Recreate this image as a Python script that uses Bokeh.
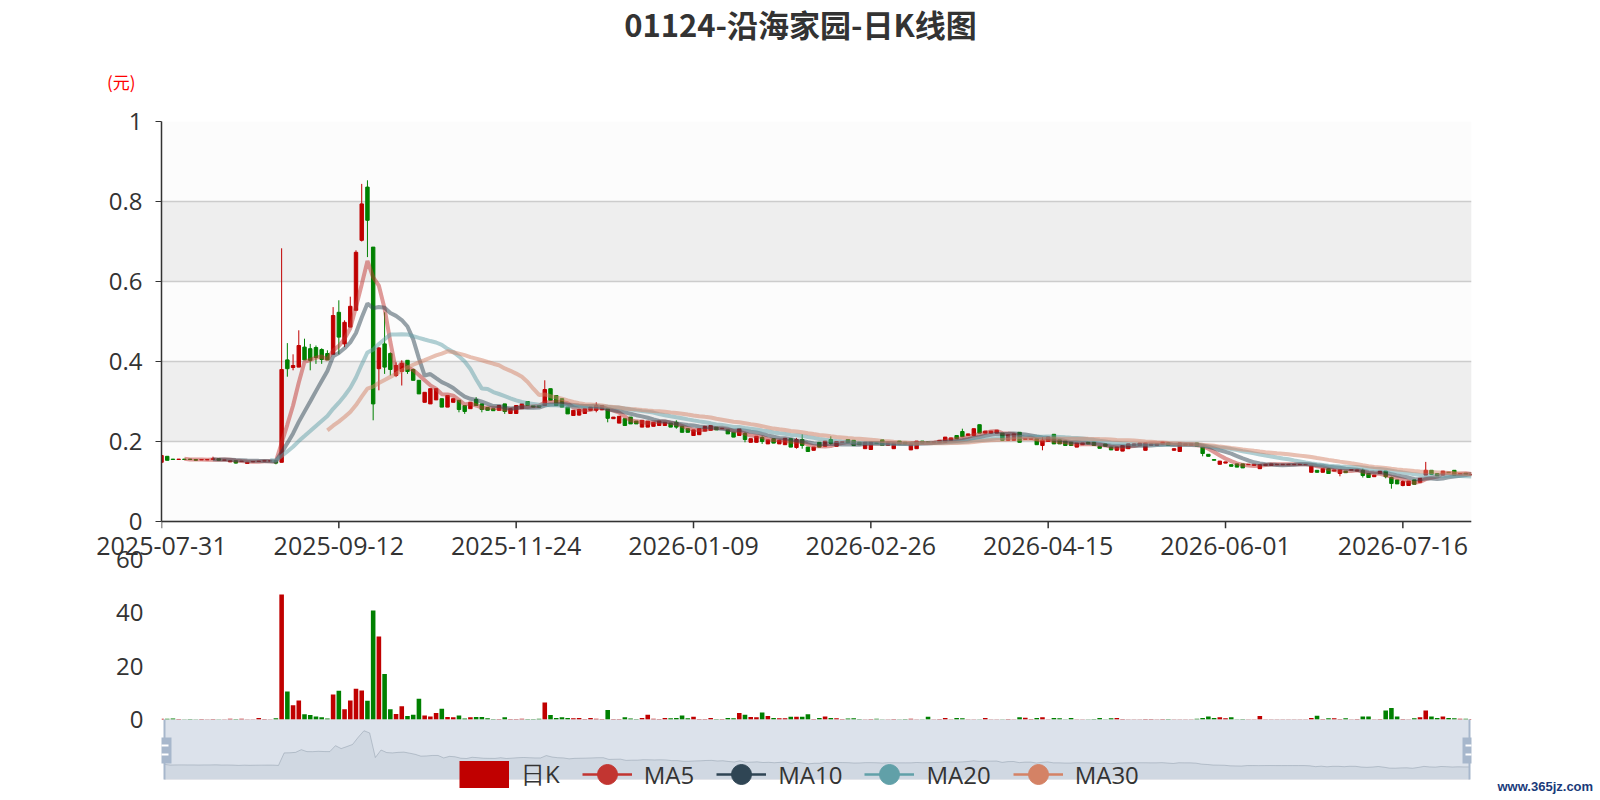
import numpy as np
import pandas as pd
from bokeh.plotting import figure
from bokeh.layouts import column
from bokeh.models import (ColumnDataSource, Range1d, FixedTicker, NumeralTickFormatter,
                          Label, BoxAnnotation, Legend, LegendItem, LinearAxis, Span)
from bokeh.embed import file_html
from bokeh.resources import INLINE

# ---------------- data ----------------
title_text = "01124-沿海家园-日K线图"
unit_text = "(元)"
watermark_text = "www.365jz.com"
tick_index = [0, 31, 62, 93, 124, 155, 186, 217]
tick_labels = ["2025-07-31", "2025-09-12", "2025-11-24", "2026-01-09",
               "2026-02-26", "2026-04-15", "2026-06-01", "2026-07-16"]
price_ticks = [0, 0.2, 0.4, 0.6, 0.8, 1]
volume_ticks = [0, 20, 40, 60]
legend_names = ["日K", "MA5", "MA10", "MA20", "MA30"]
ma_periods = [5, 10, 20, 30]

opens = [
    0.148, 0.163, 0.156, 0.155, 0.156, 0.156, 0.155, 0.154, 0.154, 0.155,
    0.157, 0.153, 0.149, 0.152, 0.150, 0.145, 0.149, 0.150, 0.151, 0.151,
    0.152, 0.148, 0.404, 0.385, 0.386, 0.436, 0.432, 0.435, 0.430, 0.420,
    0.418, 0.523, 0.444, 0.486, 0.528, 0.703, 0.836, 0.686, 0.382, 0.444,
    0.420, 0.365, 0.375, 0.403, 0.380, 0.353, 0.298, 0.294, 0.304, 0.307,
    0.286, 0.298, 0.303, 0.290, 0.282, 0.305, 0.294, 0.285, 0.282, 0.278,
    0.294, 0.270, 0.270, 0.282, 0.300, 0.290, 0.290, 0.290, 0.332, 0.315,
    0.307, 0.286, 0.265, 0.266, 0.270, 0.278, 0.278, 0.279, 0.282, 0.257,
    0.246, 0.257, 0.261, 0.251, 0.236, 0.236, 0.238, 0.240, 0.240, 0.246,
    0.248, 0.238, 0.232, 0.215, 0.217, 0.226, 0.228, 0.236, 0.232, 0.229,
    0.223, 0.215, 0.220, 0.198, 0.198, 0.210, 0.194, 0.207, 0.194, 0.192,
    0.207, 0.185, 0.205, 0.186, 0.178, 0.198, 0.188, 0.205, 0.188, 0.198,
    0.205, 0.203, 0.198, 0.182, 0.180, 0.196, 0.204, 0.190, 0.182, 0.201,
    0.198, 0.179, 0.182, 0.201, 0.200, 0.197, 0.197, 0.198, 0.203, 0.215,
    0.225, 0.215, 0.215, 0.242, 0.221, 0.221, 0.221, 0.221, 0.203, 0.203,
    0.223, 0.2055, 0.2055, 0.207, 0.190, 0.200, 0.218, 0.204, 0.201, 0.198,
    0.186, 0.192, 0.198, 0.198, 0.188, 0.194, 0.186, 0.178, 0.176, 0.182,
    0.190, 0.190, 0.178, 0.190, 0.190, 0.194, 0.196, 0.178, 0.175, 0.190,
    0.190, 0.196, 0.186, 0.168, 0.155, 0.143, 0.146, 0.142, 0.144, 0.144,
    0.142, 0.140, 0.132, 0.140, 0.140, 0.142, 0.142, 0.142, 0.142, 0.142,
    0.142, 0.123, 0.128, 0.123, 0.132, 0.126, 0.120, 0.126, 0.128, 0.126,
    0.128, 0.120, 0.112, 0.120, 0.126, 0.110, 0.104, 0.090, 0.090, 0.104,
    0.098, 0.116, 0.128, 0.120, 0.116, 0.123, 0.128, 0.118, 0.121, 0.116,
]
closes = [
    0.165, 0.153, 0.155, 0.156, 0.155, 0.155, 0.153, 0.155, 0.155, 0.157,
    0.153, 0.154, 0.152, 0.146, 0.151, 0.148, 0.150, 0.151, 0.152, 0.152,
    0.146, 0.380, 0.382, 0.390, 0.440, 0.404, 0.403, 0.410, 0.405, 0.404,
    0.515, 0.461, 0.498, 0.538, 0.673, 0.794, 0.753, 0.294, 0.434, 0.386,
    0.380, 0.390, 0.395, 0.375, 0.353, 0.319, 0.323, 0.332, 0.332, 0.286,
    0.315, 0.307, 0.280, 0.275, 0.298, 0.290, 0.280, 0.278, 0.277, 0.290,
    0.275, 0.282, 0.290, 0.294, 0.290, 0.286, 0.286, 0.330, 0.303, 0.290,
    0.286, 0.269, 0.278, 0.280, 0.282, 0.286, 0.290, 0.290, 0.258, 0.261,
    0.263, 0.240, 0.244, 0.244, 0.253, 0.251, 0.248, 0.251, 0.248, 0.236,
    0.236, 0.223, 0.223, 0.229, 0.232, 0.238, 0.240, 0.229, 0.233, 0.219,
    0.211, 0.232, 0.205, 0.207, 0.213, 0.200, 0.204, 0.196, 0.203, 0.208,
    0.186, 0.205, 0.190, 0.175, 0.186, 0.186, 0.201, 0.195, 0.200, 0.199,
    0.197, 0.190, 0.192, 0.198, 0.198, 0.195, 0.190, 0.198, 0.196, 0.194,
    0.194, 0.194, 0.201, 0.196, 0.197, 0.200, 0.203, 0.211, 0.209, 0.207,
    0.212, 0.219, 0.232, 0.221, 0.226, 0.226, 0.228, 0.203, 0.217, 0.219,
    0.198, 0.2075, 0.2075, 0.192, 0.203, 0.211, 0.194, 0.194, 0.190, 0.190,
    0.196, 0.196, 0.194, 0.190, 0.183, 0.188, 0.179, 0.186, 0.190, 0.194,
    0.194, 0.196, 0.196, 0.194, 0.194, 0.198, 0.190, 0.182, 0.196, 0.194,
    0.194, 0.188, 0.170, 0.163, 0.153, 0.151, 0.149, 0.138, 0.136, 0.134,
    0.143, 0.143, 0.142, 0.143, 0.144, 0.143, 0.143, 0.143, 0.143, 0.143,
    0.143, 0.138, 0.123, 0.132, 0.120, 0.129, 0.129, 0.122, 0.130, 0.129,
    0.115, 0.110, 0.116, 0.126, 0.112, 0.095, 0.094, 0.100, 0.101, 0.093,
    0.108, 0.128, 0.118, 0.114, 0.126, 0.122, 0.116, 0.120, 0.118, 0.118,
]
highs = [
    0.165, 0.163, 0.156, 0.156, 0.156, 0.156, 0.155, 0.155, 0.155, 0.162,
    0.157, 0.154, 0.152, 0.152, 0.151, 0.148, 0.150, 0.151, 0.152, 0.152,
    0.152, 0.683, 0.446, 0.418, 0.478, 0.457, 0.444, 0.440, 0.433, 0.428,
    0.536, 0.553, 0.503, 0.562, 0.678, 0.844, 0.853, 0.686, 0.436, 0.523,
    0.423, 0.398, 0.403, 0.403, 0.382, 0.353, 0.323, 0.332, 0.332, 0.307,
    0.315, 0.307, 0.303, 0.290, 0.298, 0.311, 0.294, 0.285, 0.282, 0.290,
    0.294, 0.282, 0.290, 0.294, 0.300, 0.290, 0.290, 0.353, 0.332, 0.315,
    0.307, 0.286, 0.278, 0.282, 0.282, 0.286, 0.298, 0.290, 0.282, 0.261,
    0.263, 0.257, 0.261, 0.251, 0.253, 0.251, 0.248, 0.251, 0.248, 0.246,
    0.253, 0.238, 0.232, 0.229, 0.232, 0.238, 0.240, 0.236, 0.233, 0.229,
    0.223, 0.232, 0.223, 0.207, 0.213, 0.213, 0.204, 0.207, 0.203, 0.208,
    0.207, 0.209, 0.218, 0.186, 0.186, 0.198, 0.201, 0.213, 0.200, 0.199,
    0.205, 0.203, 0.198, 0.198, 0.198, 0.196, 0.204, 0.198, 0.196, 0.201,
    0.198, 0.194, 0.201, 0.201, 0.200, 0.200, 0.203, 0.211, 0.209, 0.215,
    0.232, 0.219, 0.232, 0.242, 0.226, 0.226, 0.228, 0.221, 0.217, 0.219,
    0.223, 0.2075, 0.2075, 0.207, 0.211, 0.211, 0.218, 0.204, 0.201, 0.198,
    0.196, 0.196, 0.198, 0.198, 0.188, 0.194, 0.186, 0.186, 0.190, 0.194,
    0.194, 0.196, 0.196, 0.194, 0.194, 0.198, 0.196, 0.182, 0.196, 0.194,
    0.194, 0.196, 0.186, 0.168, 0.155, 0.151, 0.149, 0.142, 0.144, 0.144,
    0.143, 0.143, 0.142, 0.143, 0.144, 0.143, 0.143, 0.143, 0.143, 0.143,
    0.143, 0.138, 0.128, 0.132, 0.132, 0.129, 0.129, 0.126, 0.130, 0.129,
    0.132, 0.120, 0.116, 0.126, 0.126, 0.112, 0.104, 0.103, 0.101, 0.104,
    0.108, 0.149, 0.128, 0.120, 0.126, 0.123, 0.128, 0.120, 0.121, 0.118,
]
lows = [
    0.148, 0.153, 0.155, 0.155, 0.155, 0.155, 0.153, 0.154, 0.154, 0.155,
    0.153, 0.153, 0.149, 0.145, 0.150, 0.145, 0.149, 0.150, 0.151, 0.151,
    0.143, 0.148, 0.362, 0.378, 0.386, 0.404, 0.378, 0.394, 0.394, 0.404,
    0.418, 0.418, 0.436, 0.486, 0.528, 0.700, 0.661, 0.253, 0.328, 0.369,
    0.365, 0.361, 0.340, 0.369, 0.353, 0.319, 0.298, 0.294, 0.304, 0.286,
    0.286, 0.298, 0.273, 0.269, 0.282, 0.290, 0.273, 0.278, 0.277, 0.278,
    0.269, 0.270, 0.270, 0.282, 0.290, 0.286, 0.286, 0.290, 0.303, 0.290,
    0.286, 0.269, 0.265, 0.265, 0.270, 0.278, 0.273, 0.279, 0.248, 0.257,
    0.246, 0.240, 0.244, 0.244, 0.236, 0.236, 0.238, 0.240, 0.240, 0.236,
    0.232, 0.223, 0.223, 0.215, 0.217, 0.226, 0.228, 0.229, 0.232, 0.219,
    0.211, 0.215, 0.198, 0.198, 0.198, 0.194, 0.194, 0.196, 0.194, 0.192,
    0.186, 0.182, 0.182, 0.175, 0.178, 0.186, 0.188, 0.192, 0.188, 0.198,
    0.197, 0.190, 0.192, 0.182, 0.180, 0.195, 0.190, 0.190, 0.182, 0.194,
    0.194, 0.179, 0.182, 0.196, 0.197, 0.197, 0.197, 0.198, 0.203, 0.207,
    0.211, 0.215, 0.215, 0.221, 0.221, 0.221, 0.221, 0.203, 0.203, 0.203,
    0.198, 0.2055, 0.2055, 0.192, 0.178, 0.200, 0.194, 0.194, 0.190, 0.190,
    0.186, 0.192, 0.194, 0.190, 0.183, 0.188, 0.179, 0.178, 0.176, 0.182,
    0.190, 0.190, 0.178, 0.190, 0.190, 0.194, 0.190, 0.178, 0.175, 0.190,
    0.190, 0.188, 0.163, 0.163, 0.153, 0.143, 0.146, 0.138, 0.136, 0.134,
    0.142, 0.140, 0.132, 0.140, 0.140, 0.142, 0.142, 0.142, 0.142, 0.142,
    0.142, 0.123, 0.123, 0.123, 0.120, 0.126, 0.113, 0.122, 0.128, 0.126,
    0.110, 0.110, 0.112, 0.120, 0.108, 0.082, 0.094, 0.088, 0.090, 0.093,
    0.098, 0.116, 0.118, 0.114, 0.116, 0.122, 0.116, 0.118, 0.118, 0.116,
]
volumes = [
    0.3, 0.3, 0.4, 0.15, 0.1, 0.15, 0.1, 0.15, 0.1, 0.15,
    0.1, 0.1, 0.3, 0.2, 0.3, 0.1, 0.1, 0.6, 0.2, 0.1,
    0.5, 46.9, 10.5, 5.3, 7.1, 2.0, 1.7, 1.1, 0.8, 0.4,
    9.4, 10.8, 3.8, 7.1, 11.5, 10.9, 7.0, 40.9, 31.1, 17.1,
    3.8, 2.1, 5.0, 1.3, 1.8, 7.8, 1.5, 1.1, 2.4, 4.0,
    0.9, 0.8, 1.5, 0.4, 0.8, 0.9, 0.9, 0.5, 0.2, 0.2,
    0.8, 0.2, 0.2, 0.3, 0.2, 0.2, 0.3, 6.4, 1.7, 0.6,
    0.8, 0.6, 0.5, 0.6, 0.2, 0.6, 0.3, 0.2, 3.6, 0.2,
    0.2, 0.8, 0.4, 0.2, 0.6, 1.8, 0.3, 0.2, 0.6, 0.5,
    0.6, 1.5, 0.5, 1.0, 0.2, 0.2, 0.6, 0.2, 0.2, 0.6,
    0.5, 2.4, 1.8, 0.9, 0.8, 2.6, 1.3, 0.6, 0.5, 0.5,
    1.0, 1.0, 1.0, 2.0, 0.2, 0.6, 1.1, 0.6, 0.5, 0.2,
    0.4, 0.5, 0.2, 0.1, 0.2, 0.3, 0.1, 0.1, 0.2, 0.1,
    0.2, 0.3, 0.1, 0.1, 1.0, 0.1, 0.2, 0.6, 0.1, 0.6,
    0.5, 0.1, 0.1, 0.1, 0.6, 0.1, 0.1, 0.1, 0.2, 0.1,
    0.8, 0.7, 0.2, 0.6, 0.8, 0.1, 0.6, 0.5, 0.1, 0.6,
    0.1, 0.1, 0.1, 0.2, 0.6, 0.1, 0.5, 0.6, 0.2, 0.1,
    0.1, 0.1, 0.2, 0.2, 0.1, 0.2, 0.2, 0.1, 0.1, 0.1,
    0.1, 0.3, 0.6, 1.1, 0.6, 0.8, 0.5, 0.8, 0.1, 0.2,
    0.1, 0.1, 1.3, 0.1, 0.1, 0.05, 0.05, 0.05, 0.05, 0.05,
    0.1, 0.6, 1.4, 0.2, 0.5, 0.5, 0.2, 0.5, 0.1, 0.2,
    1.1, 1.1, 0.1, 0.2, 3.4, 4.3, 1.1, 0.2, 0.1, 0.5,
    0.8, 3.4, 1.1, 0.6, 1.1, 0.6, 0.5, 0.3, 0.3, 0.2,
]

# ---------------- styles ----------------
UP = "#c00000"
DOWN = "#008000"
MA_COLORS = ["#c23531", "#2f4554", "#61a0a8", "#d48265"]
TXT = "#333333"
NUM_FONT = "Open Sans"
CJK_FONT = "Noto Sans CJK SC"

# page-pixel layout; all plot frames share the same horizontal span
PAGE_W = 1600
F_LEFT, F_RIGHT = 161, 1471
T_H = 105                               # title strip: 0..105
A_TOP, A_ZERO, A_FB, A_END = 121, 521, 528, 536   # main canvas 105..536, frame 121..528
B_START, B_TOP, B_END = 524, 559, 799   # volume canvas 524..799 (overlaps main by a few px)
VOL_ZERO_Y = 719
SL_LEFT, SL_RIGHT, SL_TOP, SL_BOTTOM = 164, 1469, 719, 779
TICK_LEN = 7
LEG_LEFT = 459

N = len(closes)
idx = np.arange(N)
o = np.array(opens); c = np.array(closes); h = np.array(highs); l = np.array(lows)
vol = np.array(volumes)
colors = np.where(c >= o, UP, DOWN)
src = ColumnDataSource(dict(x=idx, o=o, c=c, h=h, l=l,
                            top=np.maximum(o, c), bot=np.minimum(o, c),
                            color=colors, vol=vol))
common = dict(output_backend="svg", toolbar_location=None,
              min_border_left=F_LEFT, min_border_right=PAGE_W - F_RIGHT,
              outline_line_color=None)

# ---------------- title strip ----------------
pT = figure(width=PAGE_W, height=T_H, x_range=Range1d(0, 1), y_range=Range1d(T_H, 0),
            x_axis_location=None, min_border_top=0, min_border_bottom=0,
            background_fill_color="white", border_fill_color="white", **common)
pT.grid.visible = False
ty = pT.yaxis[0]
ty.ticker = FixedTicker(ticks=[81])
ty.major_label_overrides = {81: unit_text}
ty.major_label_text_font = CJK_FONT
ty.major_label_text_font_size = "17px"
ty.major_label_text_color = "#ff0000"
ty.major_label_standoff = 26
ty.major_tick_out = 0
ty.major_tick_in = 0
ty.minor_tick_out = 0
ty.axis_line_color = None
pT.add_layout(Label(x=800 - F_LEFT, y=T_H - 23, x_units="screen", y_units="screen",
                    text=title_text, text_align="center", text_baseline="middle",
                    text_font=CJK_FONT, text_font_style="bold", text_font_size="31px",
                    text_color=TXT))

# ---------------- main K chart ----------------
ppx = (A_ZERO - A_TOP) / 1.0          # pixels per price unit
pA = figure(width=PAGE_W, height=A_END - T_H,
            x_range=Range1d(0, N - 1), y_range=Range1d(-(A_FB - A_ZERO) / ppx, 1),
            x_axis_location=None, min_border_top=A_TOP - T_H, min_border_bottom=A_END - A_FB,
            background_fill_color="white", border_fill_color="white", **common)
pA.xgrid.visible = False
pA.ygrid.ticker = FixedTicker(ticks=price_ticks)
pA.ygrid.grid_line_color = "#cccccc"
pA.ygrid.grid_line_width = 1.5
pA.ygrid.band_fill_alpha = 0

# split areas: light over the whole value span, grey for every second interval
pA.add_layout(BoxAnnotation(bottom=price_ticks[0], top=price_ticks[-1], fill_color="#fcfcfc",
                            fill_alpha=1, line_alpha=0, level="image", editable=False))
for lo_t, hi_t in zip(price_ticks[1::2], price_ticks[2::2]):
    pA.add_layout(BoxAnnotation(bottom=lo_t, top=hi_t, fill_color="#eeeeee",
                                fill_alpha=1, line_alpha=0, level="image",
                                editable=False))

ya = pA.yaxis[0]
ya.ticker = FixedTicker(ticks=price_ticks)
ya.bounds = (price_ticks[0], price_ticks[-1])
ya.formatter = NumeralTickFormatter(format="0.[0]")
ya.major_label_text_font = NUM_FONT
ya.major_label_text_font_size = "24px"
ya.major_label_text_color = TXT
ya.major_tick_out = 6
ya.major_tick_in = 0
ya.minor_tick_out = 0
ya.major_label_standoff = 13
ya.axis_line_color = TXT
ya.axis_line_width = 1.5
ya.major_tick_line_color = TXT

pA.segment(x0="x", y0="l", x1="x", y1="h", line_color="color", line_width=1, source=src)
pA.vbar(x="x", top="top", bottom="bot", width=0.6, fill_color="color",
        line_color="color", line_width=1, source=src)

close_s = pd.Series(c)
for n, col in zip(ma_periods, MA_COLORS):
    ma = close_s.rolling(n).mean().to_numpy()
    pA.line(idx, ma, line_color=col, line_alpha=0.5, line_width=4)

# category axis line and ticks at value 0
pA.add_layout(Span(location=0, dimension="width", line_color=TXT, line_width=1.5))
pA.segment(x0=tick_index, y0=[0] * len(tick_index), x1=tick_index,
           y1=[-TICK_LEN / ppx] * len(tick_index), line_color=TXT, line_width=1.5)

# ---------------- volume + slider ----------------
vpx = (VOL_ZERO_Y - B_TOP) / volume_ticks[-1]
pB = figure(width=PAGE_W, height=B_END - B_START,
            x_range=Range1d(0, N - 1), y_range=Range1d(-(B_END - VOL_ZERO_Y) / vpx, volume_ticks[-1]),
            x_axis_location="above", min_border_top=B_TOP - B_START, min_border_bottom=0,
            background_fill_color=None, border_fill_color=None,
            margin=(B_START - A_END, 0, 0, 0), **common)
pB.grid.visible = False

xb = pB.xaxis[0]
xb.ticker = FixedTicker(ticks=tick_index)
xb.major_label_overrides = {t: lab for t, lab in zip(tick_index, tick_labels)}
xb.major_label_text_font = NUM_FONT
xb.major_label_text_font_size = "25px"
xb.major_label_text_color = TXT
xb.major_label_standoff = 5
xb.major_tick_out = 0
xb.major_tick_in = 0
xb.minor_tick_out = 0
xb.axis_line_color = None

yb = pB.yaxis[0]
yb.ticker = FixedTicker(ticks=volume_ticks)
yb.bounds = (volume_ticks[0], volume_ticks[-1])
yb.major_label_text_font = NUM_FONT
yb.major_label_text_font_size = "24px"
yb.major_label_text_color = TXT
yb.major_tick_out = 0
yb.major_tick_in = 0
yb.minor_tick_out = 0
yb.major_label_standoff = 18
yb.axis_line_color = None

# watermark shown at the right edge
wm_tick = int(round(-(786 - VOL_ZERO_Y) / vpx))
wm_axis = LinearAxis(ticker=FixedTicker(ticks=[wm_tick]),
                     major_label_overrides={wm_tick: watermark_text},
                     major_label_text_font="Liberation Sans", major_label_text_font_style="bold",
                     major_label_text_font_size="13px", major_label_text_color="#1a3a7a",
                     major_label_standoff=26, major_tick_out=0, major_tick_in=0,
                     minor_tick_out=0, axis_line_color=None)
pB.add_layout(wm_axis, "right")

pB.vbar(x="x", top="vol", bottom=0, width=0.8, fill_color="color",
        line_color=None, source=src)

# slider data shadow
lo = c.min() - 0.3 * (c.max() - c.min())
hi = c.max() + 0.3 * (c.max() - c.min())
k = (SL_BOTTOM - SL_TOP) / (hi - lo)
s2 = (SL_RIGHT - SL_LEFT) / (N - 1)
pB.extra_y_ranges = {"sl": Range1d(lo - (B_END - SL_BOTTOM) / k, hi + (SL_TOP - B_TOP) / k)}
pB.extra_x_ranges = {"slx": Range1d(-(SL_LEFT - F_LEFT) / s2, (N - 1) + (F_RIGHT - SL_RIGHT) / s2)}
pB.varea(x=idx, y1=lo, y2=c, x_range_name="slx", y_range_name="sl",
         fill_color="#2f4554", fill_alpha=0.09)
pB.line(idx, c, x_range_name="slx", y_range_name="sl",
        line_color="#2f4554", line_alpha=0.3, line_width=1)

# legend swatches (single invisible point each)
items = []
rk = pB.line([0], [np.nan], line_color=UP, line_width=27)
items.append(LegendItem(label=legend_names[0], renderers=[rk]))
for name, col in zip(legend_names[1:], MA_COLORS):
    lr = pB.line([0], [np.nan], line_color=col, line_width=2.5)
    cr = pB.scatter([0], [np.nan], marker="circle", fill_color=col, line_color=col)
    items.append(LegendItem(label=name, renderers=[lr, cr]))
legend = Legend(items=items, orientation="horizontal", location=(LEG_LEFT - F_LEFT, 0),
                glyph_width=50, glyph_height=50, label_standoff=12, spacing=22,
                padding=0, margin=0, background_fill_alpha=0, border_line_alpha=0,
                label_text_font=NUM_FONT, label_text_font_size="24px",
                label_text_color=TXT)
pB.add_layout(legend)


def sbox(x0, x1, y0, y1, **kw):
    """box given in page pixels -> frame-relative screen units of pB"""
    return BoxAnnotation(left=x0 - F_LEFT, right=x1 - F_LEFT,
                         top=B_END - y0, bottom=B_END - y1,
                         left_units="screen", right_units="screen",
                         top_units="screen", bottom_units="screen",
                         level="overlay", editable=False, **kw)


pB.add_layout(sbox(SL_LEFT, SL_RIGHT, SL_TOP, SL_BOTTOM,
                   fill_color="#a7b7cc", fill_alpha=0.4,
                   line_color="#dddddd", line_width=1))
for hx in (SL_LEFT, SL_RIGHT):
    pB.add_layout(sbox(hx - 1, hx + 1, SL_TOP, SL_BOTTOM, fill_color="#a7b7cc",
                       fill_alpha=1, line_alpha=0))
    pB.add_layout(sbox(hx - 7, hx + 7, 737, 763, fill_color="#a7b7cc",
                       fill_alpha=1, line_alpha=0))
    for gy in (745, 754):
        pB.add_layout(sbox(hx - 4, hx + 4, gy - 1, gy + 1, fill_color="white",
                           fill_alpha=1, line_alpha=0))

layout = column(pT, pA, pB, spacing=0)
open("out.html", "w").write(file_html(layout, INLINE))
